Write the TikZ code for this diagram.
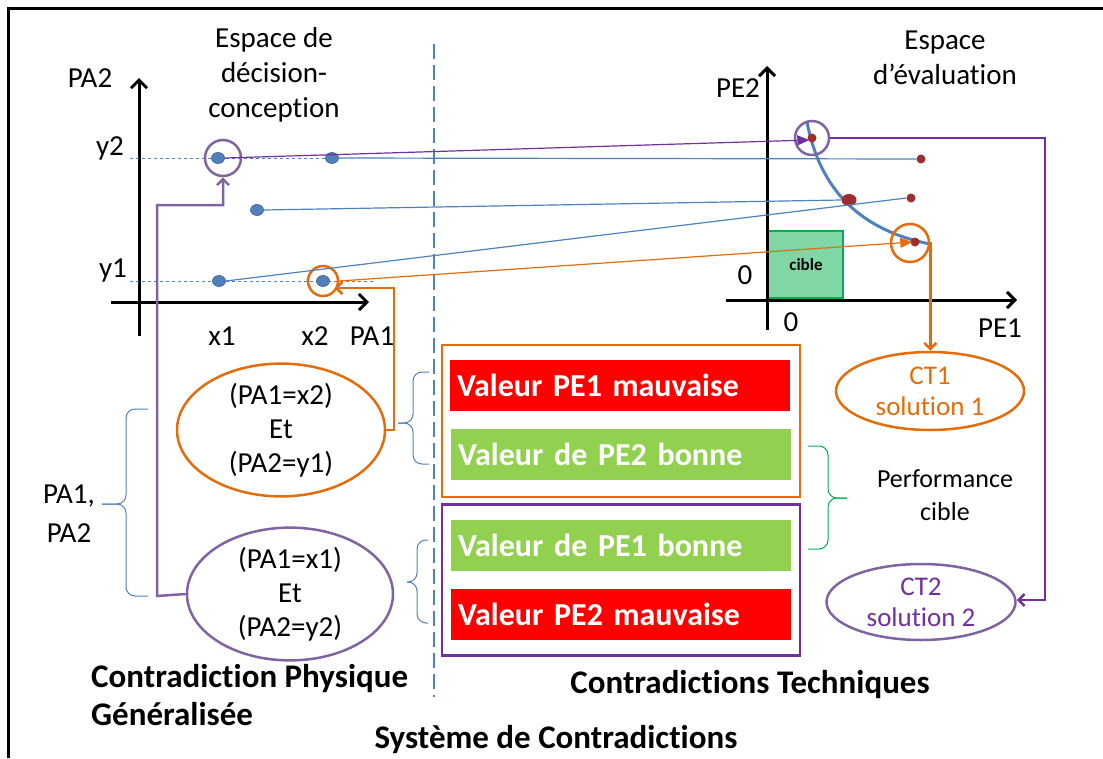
\documentclass[tikz,border=0pt]{standalone}
\usepackage{fontspec}
\setmainfont{Carlito}[Ligatures={NoCommon}]
\usetikzlibrary{arrows.meta,calc,shapes.geometric}
\definecolor{oorange}{RGB}{228,108,10}
\definecolor{lpurple}{RGB}{128,100,162}
\definecolor{dpurple}{RGB}{112,48,160}
\definecolor{oblue}{RGB}{79,129,189}
\definecolor{dotred}{RGB}{160,45,45}
\definecolor{ored}{RGB}{255,0,0}
\definecolor{ogreen}{RGB}{146,208,80}
\definecolor{cibfill}{RGB}{128,214,165}
\definecolor{cibdraw}{RGB}{0,176,80}
\tikzset{
  lbl/.style={font=\fontsize{29}{35}\selectfont,inner sep=0pt},
  bdot/.style={ellipse,fill=oblue,draw=oblue!70!black,line width=0.6pt,inner sep=0pt,minimum width=13pt,minimum height=11pt},
  rdot/.style={circle,fill=dotred,inner sep=0pt,minimum size=9pt},
  axis/.style={line width=3pt,-{Straight Barb[length=8pt,width=16pt]}},
  valbox/.style={minimum width=340pt,minimum height=51pt,inner sep=0pt,text=white,font=\fontsize{32}{34}\bfseries\selectfont,text width=326pt,align=left},
  bracec/.style={draw=oblue,line width=1pt,rounded corners=9pt},
  conn/.style={line width=1.2pt},
  ell/.style={ellipse,line width=2.5pt,inner sep=0pt,align=center,font=\fontsize{29}{34}\selectfont},
  ctell/.style={ellipse,line width=2.5pt,inner sep=0pt,align=center,font=\fontsize{27}{31}\selectfont},
  title/.style={font=\fontsize{33}{38}\bfseries\selectfont,inner sep=0pt},
}
\begin{document}
\begin{tikzpicture}[x=1pt,y=-1pt]
\useasboundingbox (0,0) rectangle (1103,758);
% frame
\draw[line width=3pt] (8,758) -- (8,8) -- (1103,8);
% separator
\draw[oblue,line width=2pt,dash pattern=on 15pt off 6pt] (434,44) -- (434,697);

% ---- left space
\node[lbl,align=center] (tl) at (274,75) {Espace de\\décision-\\conception};
\draw[axis] (139,336) -- (139,78);
\draw[axis] (111,302) -- (369,302);
\node[lbl] (pa2) at (90,78) {PA2};
\node[lbl] (y2) at (110,148) {y2};
\node[lbl] (y1) at (113,270) {y1};
\node[lbl] (x1) at (222,336) {x1};
\node[lbl] (x2) at (315,336) {x2};
\node[lbl] (pa1) at (372,336) {PA1};
\draw[oblue,line width=0.8pt,dashed] (130,158) -- (332,158);
\draw[oblue,line width=0.8pt,dashed] (130,281) -- (373,281);

\node[bdot] (d1) at (218,158) {};
\node[bdot] (d2) at (332,158) {};
\node[bdot] (d3) at (257,210) {};
\node[bdot] (d4) at (219,281) {};
\node[bdot] (d5) at (323,281) {};
\node[circle,draw=lpurple,line width=2.5pt,minimum size=36pt,inner sep=0pt] (c1) at (223,158) {};
\node[circle,draw=oorange,line width=2.5pt,minimum size=30pt,inner sep=0pt] (c5) at (323,281) {};

% ---- right space
\node[lbl,align=center] (tr) at (945,58) {Espace\\d’évaluation};
\node[draw=cibdraw,fill=cibfill,line width=2pt,minimum width=75pt,minimum height=67pt,inner sep=0pt] (cible) at (805.5,264.5) {};
\node[font=\fontsize{17}{20}\bfseries\selectfont] at (806,265) {cible};
\draw[axis] (767,330) -- (767,66);
\draw[axis] (726,300) -- (1017,300);
\node[lbl] (pe2) at (738,88) {PE2};
\node[lbl] (z1) at (745,275) {0};
\node[lbl] (z2) at (791,322) {0};
\node[lbl] (pe1) at (1000,328) {PE1};
\draw[oblue,line width=3pt] (807,122) .. controls (820,190) and (860,230) .. (930,244);
\node[rdot] (r1) at (812,138) {};
\node[rdot] (r2) at (921,159) {};
\node[rdot,ellipse,minimum width=15pt,minimum height=12pt] (r3) at (849,200) {};
\node[rdot] (r4) at (911,198) {};
\node[rdot] (r5) at (915,242) {};
\node[circle,draw=lpurple,line width=2.5pt,minimum size=34pt,inner sep=0pt] (c2) at (812,138) {};
\node[circle,draw=oorange,line width=2.5pt,minimum size=38pt,inner sep=0pt] (c6) at (910,243) {};

% connectors between spaces
\draw[dpurple,conn,-{Triangle[length=12pt,width=10pt]}] (d1.east) -- ($(r1.west)+(2,2)$);
\draw[oblue,conn] (d2.east) -- (r2.west);
\draw[oblue,conn] (d3.east) -- (r3.west);
\draw[oblue,conn] (d4.east) -- (r4.west);
\draw[oorange,conn,-{Triangle[length=12pt,width=10pt]}] (c5.east) -- ($(r5.west)+(2,0)$);

% ---- ellipses
\node[ell,draw=oorange,minimum width=208pt,minimum height=130pt] (e1) at (281,430) {(PA1=x2)\\Et\\(PA2=y1)};
\node[ell,draw=lpurple,minimum width=206pt,minimum height=120pt] (e2) at (290,594) {(PA1=x1)\\Et\\(PA2=y2)};
\coordinate (o1) at (394,430);
\coordinate (o2) at (394,288);
\draw[oorange,line width=2.5pt,-{Straight Barb[length=6pt,width=12pt]}] (e1.east) -- (o1) -- (o2) -- (c5.south east |- o2);
\coordinate (p1) at (157,596);
\coordinate (p2) at (157,205);
\draw[lpurple,line width=2.5pt,-{Straight Barb[length=6pt,width=12pt]}] (e2.west) -- (p1) -- (p2) -- (c1.south |- p2) -- (c1.south);

% braces
\draw[bracec] (148,409) -- (126,409) -- (126,504) -- (102,504);
\draw[bracec] (102,504) -- (126,504) -- (126,596) -- (148,596);
\node[lbl,align=center,font=\fontsize{29}{39}\selectfont] (pa) at (69,514) {PA1,\\PA2};

% ---- boxes
\node[draw=oorange,line width=2.5pt,minimum width=358pt,minimum height=152pt,inner sep=0pt] (ob) at (621,421) {};
\node[draw=dpurple,line width=2.5pt,minimum width=358pt,minimum height=151pt,inner sep=0pt] (pb) at (621,580) {};
\node[valbox,fill=ored] (v1) at (620,385) {Valeur PE1 mauvaise};
\node[valbox,fill=ogreen] (v2) at (621,454) {Valeur de PE2 bonne};
\node[valbox,fill=ogreen] (v3) at (621,545) {Valeur de PE1 bonne};
\node[valbox,fill=ored] (v4) at (621,614) {Valeur PE2 mauvaise};
\draw[bracec] (429,372) -- (413,372) -- (413,423) -- (398,423);
\draw[bracec] (398,423) -- (413,423) -- (413,464) -- (429,464);
\draw[bracec] (428,540) -- (417,540) -- (417,582) -- (407,582);
\draw[bracec] (407,582) -- (417,582) -- (417,623) -- (428,623);
\draw[bracec,draw=cibdraw] (808,446) -- (828,446) -- (828,498) -- (847,498);
\draw[bracec,draw=cibdraw] (847,498) -- (828,498) -- (828,549) -- (808,549);
\node[lbl,align=center,font=\fontsize{26}{33}\selectfont] (perf) at (945,495) {Performance\\cible};

% ---- CT ellipses
\node[ctell,draw=oorange,text=oorange,minimum width=188pt,minimum height=78pt] (ct1) at (930,391) {CT1\\solution 1};
\node[ctell,draw=lpurple,text=dpurple,minimum width=189pt,minimum height=76pt] (ct2) at (921,602) {CT2\\solution 2};
\draw[oorange,line width=2.5pt,-{Straight Barb[length=6pt,width=12pt]}] (c6.east |- r5) -- (c6.east |- ct1.north);
\coordinate (q1) at (1045,138);
\coordinate (q2) at (1045,600);
\draw[dpurple,line width=2.5pt,-{Straight Barb[length=6pt,width=12pt]}] (c2.east) -- (q1) -- (q2) -- (ct2.east |- q2);

% ---- bottom titles
\node[title,align=left,anchor=north west] (cp) at (91,664) {Contradiction Physique\\Généralisée};
\node[title] (ctt) at (750,685) {Contradictions Techniques};
\node[title] (sys) at (556,740) {Système de Contradictions};
\end{tikzpicture}
\end{document}
